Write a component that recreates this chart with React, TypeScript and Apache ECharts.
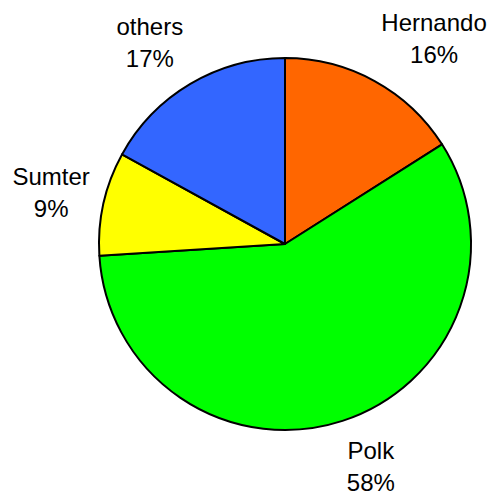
import React, { useEffect, useRef } from "react";
import * as echarts from "echarts";

const categories = ["Hernando", "Polk", "Sumter", "others"];
const values = [16, 58, 9, 17];
const colors = ["#FF6600", "#00FF00", "#FFFF00", "#3366FF"];

const CX = 285;
const CY = 244;
const RADIUS = 186;
const LABEL_R = 200;
const LABEL_K = 34;

export default function App() {
  const ref = useRef<HTMLDivElement>(null);
  useEffect(() => {
    if (!ref.current) return;
    const chart = echarts.init(ref.current, null, { renderer: "svg" });
    const total = values.reduce((a, b) => a + b, 0);
    const mids: number[] = [];
    let acc = 0;
    values.forEach((v) => {
      mids.push(((acc + v / 2) / total) * Math.PI * 2);
      acc += v;
    });
    chart.setOption({
      animation: false,
      backgroundColor: "#ffffff",
      series: [
        {
          type: "pie",
          center: [CX, CY],
          radius: [0, RADIUS],
          startAngle: 90,
          clockwise: true,
          avoidLabelOverlap: false,
          silent: true,
          data: categories.map((c, i) => ({
            name: c,
            value: values[i],
            itemStyle: { color: colors[i] },
          })),
          itemStyle: { borderColor: "#000000", borderWidth: 2 },
          label: {
            show: true,
            position: "outside",
            formatter: (p: any) => `${p.name}\n${Math.round(p.percent)}%`,
            fontFamily: "'Liberation Sans', Arial, sans-serif",
            fontSize: 24,
            lineHeight: 32,
            color: "#000000",
            align: "center",
          },
          labelLine: { show: false },
          labelLayout: (p: any) => {
            const a = mids[p.dataIndex];
            const s = Math.sin(a);
            const c = Math.cos(a);
            const ax = CX + LABEL_R * s;
            const ay = CY - LABEL_R * c;
            const w = p.labelRect.width;
            const x = s >= 0 ? ax + w / 2 : ax - w / 2;
            const y = ay - LABEL_K * c;
            return { x, y, align: "center", verticalAlign: "middle" };
          },
        },
      ],
    });
    return () => chart.dispose();
  }, []);
  return (
    <div
      ref={ref}
      style={{ position: "absolute", left: 0, top: 0, width: 496, height: 495 }}
    />
  );
}
